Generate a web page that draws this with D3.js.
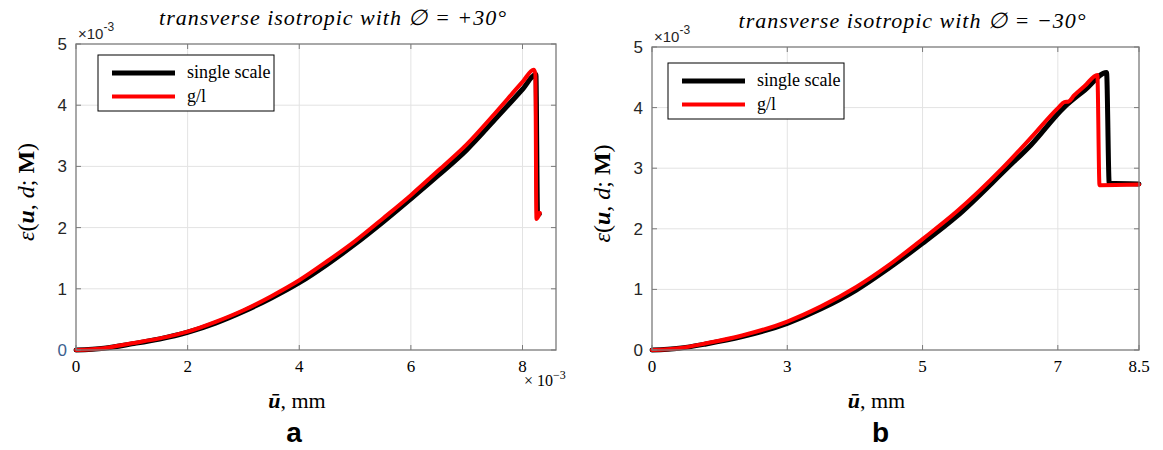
<!DOCTYPE html>
<html>
<head>
<meta charset="utf-8">
<script src="https://cdn.jsdelivr.net/npm/d3@7"></script>
<style>
  html, body { margin: 0; padding: 0; background: #fff; }
  svg { display: block; }
</style>
</head>
<body>
<svg id="fig" width="1163" height="450"></svg>
<script>
// ---- data (u in 1e-3 mm for panel a, energy in 1e-3) ----
const yTicks = [0, 1, 2, 3, 4, 5];
const xTicksA = [0, 2, 4, 6, 8];
const xTicksB = [0, 3, 5, 7, 8.5];
const seriesNames = ["single scale", "g/l"];
const titles = ["transverse isotropic with \u2205 = +30\u00B0", "transverse isotropic with \u2205 = \u221230\u00B0"];
const panelLetters = ["a", "b"];

// panel a: phi = +30
const uSingleA = [0, 0.5, 1, 1.5, 2, 2.5, 3, 3.5, 4, 4.5, 5, 5.5, 6, 6.5, 7, 7.5, 8, 8.24, 8.27, 8.3];
const epsSingleA = [0, 0.03, 0.10, 0.18, 0.29, 0.44, 0.63, 0.85, 1.10, 1.40, 1.73, 2.09, 2.47, 2.86, 3.27, 3.76, 4.26, 4.50, 2.20, 2.22];
const uGlA = [0, 0.5, 1, 1.5, 2, 2.5, 3, 3.5, 4, 4.5, 5, 5.5, 6, 6.5, 7, 7.5, 8, 8.2, 8.23, 8.25, 8.31];
const epsGlA = [0, 0.03, 0.11, 0.19, 0.30, 0.46, 0.65, 0.88, 1.14, 1.45, 1.78, 2.15, 2.53, 2.94, 3.36, 3.86, 4.38, 4.58, 4.52, 2.14, 2.24];

// panel b: phi = -30
const uSingleB = [0, 0.6, 1.2, 2, 3, 3.5, 4.02, 4.5, 5, 5.5, 6.25, 6.6, 7.11, 7.5, 7.9, 7.95, 8.5];
const epsSingleB = [0, 0.03, 0.10, 0.22, 0.44, 0.68, 0.99, 1.35, 1.76, 2.20, 3.00, 3.38, 4.00, 4.29, 4.58, 2.75, 2.74];
const uGlB = [0, 0.6, 1.2, 2, 3, 3.5, 4.02, 4.5, 5, 5.5, 6.18, 6.6, 7.01, 7.12, 7.2, 7.3, 7.5, 7.73, 7.77, 8.5];
const epsGlB = [0, 0.03, 0.11, 0.24, 0.47, 0.72, 1.04, 1.40, 1.83, 2.28, 3.00, 3.50, 4.00, 4.09, 4.10, 4.20, 4.36, 4.54, 2.72, 2.73];

const svg = d3.select("#fig");
const serif = "'Liberation Serif', 'Times New Roman', serif";
const sans = "'Liberation Sans', Arial, sans-serif";
const colors = ["#000000", "#ff0000"];
const widths = [5, 4];

function zip(us, es) { return us.map((u, i) => ({ u: u, e: es[i] })); }

function drawPanel(cfg) {
  const { left, right, top, bottom, x, ticks, series, title, letter, legendOff, xExp, zeroColor } = cfg;
  const y = d3.scaleLinear().domain([0, 5]).range([bottom, top]);
  const g = svg.append("g");
  const xMax = x.domain()[x.domain().length - 1];

  // grid (interior ticks only)
  g.append("g").selectAll("line").data(ticks.filter(t => t > 0 && t < xMax))
    .join("line")
    .attr("x1", d => x(d)).attr("x2", d => x(d)).attr("y1", top).attr("y2", bottom)
    .attr("stroke", "#e3e3e3").attr("stroke-width", 1);
  g.append("g").selectAll("line").data(yTicks.slice(1, -1))
    .join("line")
    .attr("x1", left).attr("x2", right).attr("y1", d => y(d)).attr("y2", d => y(d))
    .attr("stroke", "#e3e3e3").attr("stroke-width", 1);

  // curves
  const line = d3.line().x(d => x(d.u)).y(d => y(d.e)).curve(d3.curveMonotoneX);
  series.forEach((s, i) => {
    g.append("path").datum(s)
      .attr("d", line)
      .attr("fill", "none")
      .attr("stroke", colors[i])
      .attr("stroke-width", widths[i])
      .attr("stroke-linejoin", "round")
      .attr("stroke-linecap", "round");
  });

  // box and inward ticks
  const axisColor = "#7a7a7a";
  g.append("rect").attr("x", left).attr("y", top).attr("width", right - left).attr("height", bottom - top)
    .attr("fill", "none").attr("stroke", axisColor).attr("stroke-width", 1.3);
  const tl = 5;
  ticks.forEach(t => {
    g.append("line").attr("x1", x(t)).attr("x2", x(t)).attr("y1", bottom).attr("y2", bottom - tl).attr("stroke", axisColor);
    g.append("line").attr("x1", x(t)).attr("x2", x(t)).attr("y1", top).attr("y2", top + tl).attr("stroke", axisColor);
  });
  yTicks.forEach(t => {
    g.append("line").attr("x1", left).attr("x2", left + tl).attr("y1", y(t)).attr("y2", y(t)).attr("stroke", axisColor);
    g.append("line").attr("x1", right).attr("x2", right - tl).attr("y1", y(t)).attr("y2", y(t)).attr("stroke", axisColor);
  });

  // y tick labels
  g.append("g").selectAll("text").data(yTicks).join("text")
    .attr("x", left - 9).attr("y", d => y(d) + 6)
    .attr("text-anchor", "end")
    .attr("font-family", sans).attr("font-size", 17)
    .attr("fill", d => d === 0 && zeroColor ? zeroColor : "#262626")
    .text(d => d);

  // exponent above y axis
  const ye = g.append("text").attr("x", left + 2).attr("y", top - 5)
    .attr("font-family", sans).attr("font-size", 15).attr("fill", "#262626");
  ye.append("tspan").text("\u00D710");
  ye.append("tspan").attr("dy", -8).attr("font-size", 12).text("-3");

  // x tick labels
  g.append("g").selectAll("text").data(ticks).join("text")
    .attr("x", d => x(d)).attr("y", bottom + 22)
    .attr("text-anchor", "middle")
    .attr("font-family", serif).attr("font-size", 17).attr("fill", "#000")
    .text(d => d);

  if (xExp) {
    const xe = g.append("text").attr("x", right - 32).attr("y", bottom + 36)
      .attr("font-family", serif).attr("font-size", 16).attr("fill", "#000");
    xe.append("tspan").text("\u00D7 10");
    xe.append("tspan").attr("dy", -7).attr("font-size", 12).text("\u22123");
  }

  // title
  g.append("text").attr("x", (left + right) / 2 + 17).attr("y", top - 19)
    .attr("text-anchor", "middle")
    .attr("font-family", serif).attr("font-style", "italic").attr("font-size", 22)
    .attr("letter-spacing", 1)
    .text(title);

  // y axis label
  const cx = left - 50, cy = (top + bottom) / 2 - 5;
  const yl = g.append("text")
    .attr("transform", `translate(${cx},${cy}) rotate(-90)`)
    .attr("text-anchor", "middle").attr("dy", 8)
    .attr("font-family", serif).attr("font-size", 24).attr("fill", "#000");
  yl.append("tspan").attr("font-style", "italic").text("\u03B5");
  yl.append("tspan").text("(");
  yl.append("tspan").attr("font-weight", "bold").attr("font-style", "italic").text("u");
  yl.append("tspan").text(", ");
  yl.append("tspan").attr("font-style", "italic").text("d");
  yl.append("tspan").text("; ");
  yl.append("tspan").attr("font-weight", "bold").text("M");
  yl.append("tspan").text(")");

  // x axis label
  const xl = g.append("text").attr("x", (left + right) / 2 - 19).attr("y", bottom + 58)
    .attr("text-anchor", "middle")
    .attr("font-family", serif).attr("font-size", 22).attr("fill", "#000");
  xl.append("tspan").attr("font-weight", "bold").attr("font-style", "italic").text("\u016B");
  xl.append("tspan").text(", mm");

  // panel letter
  g.append("text").attr("x", (left + right) / 2 + cfg.letterDx).attr("y", 442)
    .attr("text-anchor", "middle")
    .attr("font-family", sans).attr("font-weight", "bold").attr("font-size", 28)
    .text(letter);

  // legend
  const lx = left + legendOff[0], ly = top + legendOff[1];
  const lg = g.append("g");
  lg.append("rect").attr("x", lx).attr("y", ly).attr("width", 176).attr("height", 56)
    .attr("fill", "#fff").attr("stroke", "#000").attr("stroke-width", 1);
  seriesNames.forEach((name, i) => {
    const yy = ly + 18 + i * 23.5;
    lg.append("line").attr("x1", lx + 14).attr("x2", lx + 77).attr("y1", yy).attr("y2", yy)
      .attr("stroke", colors[i]).attr("stroke-width", widths[i]);
    lg.append("text").attr("x", lx + 89).attr("y", yy + 5)
      .attr("font-family", serif).attr("font-size", 18).attr("fill", "#000")
      .text(name);
  });
}

// panel a
const xA = d3.scaleLinear().domain([0, 8.6]).range([76, 556]);
drawPanel({
  left: 76, right: 556, top: 44, bottom: 350, x: xA, ticks: xTicksA,
  series: [zip(uSingleA, epsSingleA), zip(uGlA, epsGlA)],
  title: titles[0], letter: panelLetters[0], letterDx: -22,
  legendOff: [22, 11], xExp: true, zeroColor: "#3e5f8f"
});

// panel b: tick positions are equally spaced, last interval is 0.6 of a step
const leftB = 652, rightB = 1139;
const stepB = (rightB - leftB) / 3.6;
const xB = d3.scaleLinear().domain(xTicksB)
  .range(xTicksB.map((t, i) => i < xTicksB.length - 1 ? leftB + i * stepB : rightB));
drawPanel({
  left: leftB, right: rightB, top: 47, bottom: 350, x: xB, ticks: xTicksB,
  series: [zip(uSingleB, epsSingleB), zip(uGlB, epsGlB)],
  title: titles[1], letter: panelLetters[1], letterDx: -15,
  legendOff: [16, 16], xExp: false, zeroColor: null
});
</script>
</body>
</html>
